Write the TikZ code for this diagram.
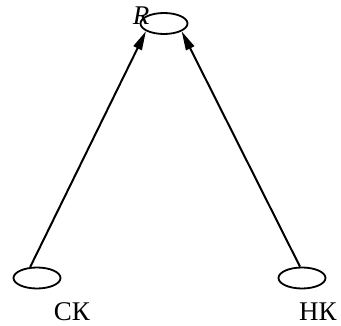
\documentclass[tikz,border=0pt]{standalone}
\usepackage{fontspec}
\setmainfont{Liberation Serif}
\usetikzlibrary{shapes.geometric,arrows.meta}
\begin{document}
\begin{tikzpicture}[x=1pt,y=-1pt,
  oval/.style={draw,ellipse,line width=1.8pt,minimum width=47pt,minimum height=21pt,inner sep=0pt},
  lbl/.style={inner sep=0pt,font=\fontsize{27}{32}\selectfont},
  conn/.style={line width=2pt,-{Triangle[length=19pt,width=9pt]}}]
\useasboundingbox (0,0) rectangle (341,326);
\node[oval] (T) at (164,23.5) {};
\node[oval] (L) at (37,278) {};
\node[oval] (N) at (302,278) {};
\node[lbl,font=\fontsize{27}{32}\selectfont\itshape] (Rl) at (141,16) {R};
\node[lbl] (SK) at (72,312) {СК};
\node[lbl] (NK) at (318,312) {НК};
\draw[conn] (L.122) -- (T.203);
\draw[conn] (N.100) -- (T.336);
\end{tikzpicture}
\end{document}
